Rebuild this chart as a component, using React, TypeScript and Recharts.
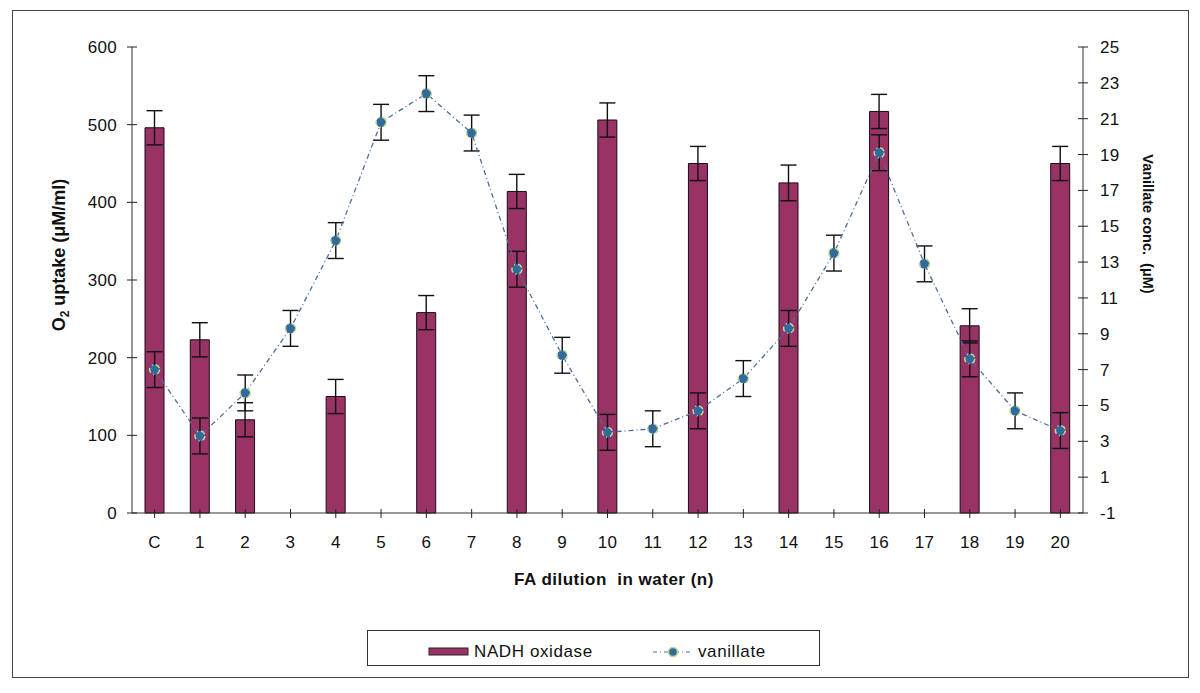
import React from 'react';
import { ComposedChart, Bar, Line, XAxis, YAxis, ErrorBar, Legend } from 'recharts';

// values
const categories = ['C', '1', '2', '3', '4', '5', '6', '7', '8', '9', '10', '11', '12', '13', '14', '15', '16', '17', '18', '19', '20'];
const nadhOxidase = [496, 223, 120, null, 150, null, 258, null, 414, null, 506, null, 450, null, 425, null, 517, null, 241, null, 450];
const nadhError = [22, 22, 22, null, 22, null, 22, null, 22, null, 22, null, 22, null, 23, null, 22, null, 22, null, 22];
const vanillate = [7.0, 3.3, 5.7, 9.3, 14.2, 20.8, 22.4, 20.2, 12.6, 7.8, 3.5, 3.7, 4.7, 6.5, 9.3, 13.5, 19.1, 12.9, 7.6, 4.7, 3.6];
const vanillateError = [1.0, 1.0, 1.0, 1.0, 1.0, 1.0, 1.0, 1.0, 1.0, 1.0, 1.0, 1.0, 1.0, 1.0, 1.0, 1.0, 1.0, 1.0, 1.0, 1.0, 1.0];

const leftTicks = [0, 100, 200, 300, 400, 500, 600];
const rightTicks = [-1, 1, 3, 5, 7, 9, 11, 13, 15, 17, 19, 21, 23, 25];

const data = categories.map((c, i) => ({
  label: c,
  nadh: nadhOxidase[i],
  nadhErr: nadhError[i],
  van: vanillate[i],
  vanErr: vanillateError[i],
}));

const FONT = '"Liberation Sans", Arial, sans-serif';
const BAR_FILL = '#993366';
const LINE_COLOR = '#4d6c9c';
const DOT_FILL = '#336a9c';
const DOT_STROKE = '#b9d98f';

const XTick = ({ x, y, payload }: any) => (
  <g>
    <line x1={x} x2={x} y1={y - 4} y2={y + 5} stroke="#222" />
    <text x={x} y={y + 35} textAnchor="middle" fontSize={17} letterSpacing={0.3} fill="#111" fontFamily={FONT}>
      {payload.value}
    </text>
  </g>
);

const LeftTick = ({ x, y, payload }: any) => (
  <g>
    <line x1={x - 5} x2={x + 5} y1={y} y2={y} stroke="#222" />
    <text x={x - 15} y={y + 6} textAnchor="end" fontSize={17} letterSpacing={0.3} fill="#111" fontFamily={FONT}>
      {payload.value}
    </text>
  </g>
);

const RightTick = ({ x, y, payload }: any) => (
  <g>
    <line x1={x - 5} x2={x + 5} y1={y} y2={y} stroke="#222" />
    <text x={x + 17} y={y + 6} textAnchor="start" fontSize={17} letterSpacing={0.3} fill="#111" fontFamily={FONT}>
      {payload.value}
    </text>
  </g>
);

const LegendBox = () => (
  <div
    style={{
      width: 453,
      height: 36,
      border: '1px solid #333',
      boxSizing: 'border-box',
      background: '#fff',
      position: 'relative',
    }}
  >
    <svg width={451} height={34} style={{ position: 'absolute', left: 0, top: 0 }}>
      <rect x={61} y={17} width={39} height={7} fill={BAR_FILL} stroke="#222" />
      <text x={106} y={26} fontSize={17} letterSpacing={0.6} fontFamily={FONT} fill="#111">NADH oxidase</text>
      <line x1={285} x2={325} y1={21} y2={21} stroke={LINE_COLOR} strokeDasharray="4 3 1 3" />
      <circle cx={305} cy={21} r={4.5} fill={DOT_FILL} stroke={DOT_STROKE} strokeWidth={1.5} />
      <text x={330} y={26} fontSize={17} letterSpacing={0.6} fontFamily={FONT} fill="#111">vanillate</text>
    </svg>
  </div>
);

export default function App() {
  return (
    <div style={{ position: 'absolute', left: 0, top: 0, width: 1200, height: 693, background: '#fff' }}>
      <div
        style={{
          position: 'absolute',
          left: 12,
          top: 10,
          width: 1177,
          height: 668,
          border: '1px solid #444',
          boxSizing: 'border-box',
        }}
      />
      <div style={{ position: 'absolute', left: 0, top: 0 }}>
        <ComposedChart
          width={1200}
          height={693}
          data={data}
          margin={{ top: 47, right: 37, bottom: 120, left: 52 }}
          barCategoryGap={0}
        >
          <XAxis
            dataKey="label"
            height={60}
            stroke="#333"
            tickLine={false}
            tickSize={0}
            tickMargin={0}
            interval={0}
            tick={<XTick />}
            label={() => (
              <text
                x={614}
                y={585}
                textAnchor="middle"
                fontSize={17}
                letterSpacing={0.5}
                fontWeight="bold"
                fontFamily={FONT}
                fill="#111"
                style={{ whiteSpace: 'pre' }}
              >
                FA dilution  in water (n)
              </text>
            )}
          />
          <YAxis
            yAxisId="left"
            width={80}
            domain={[0, 600]}
            ticks={leftTicks}
            interval={0}
            stroke="#333"
            tickLine={false}
            tickSize={0}
            tickMargin={0}
            tick={<LeftTick />}
            label={() => (
              <text
                x={65}
                y={255}
                transform="rotate(-90 65 255)"
                textAnchor="middle"
                fontSize={18}
                fontWeight="bold"
                fontFamily={FONT}
                fill="#111"
              >
                O<tspan dy={4} fontSize={12}>2</tspan>
                <tspan dy={-4}> uptake (μM/ml)</tspan>
              </text>
            )}
          />
          <YAxis
            yAxisId="right"
            orientation="right"
            width={80}
            domain={[-1, 25]}
            ticks={rightTicks}
            interval={0}
            stroke="#333"
            tickLine={false}
            tickSize={0}
            tickMargin={0}
            tick={<RightTick />}
            label={() => (
              <text
                x={1143}
                y={224}
                transform="rotate(90 1143 224)"
                textAnchor="middle"
                fontSize={14.5}
                fontWeight="bold"
                fontFamily={FONT}
                fill="#111"
                style={{ whiteSpace: 'pre' }}
              >
                Vanillate conc.  (μM)
              </text>
            )}
          />
          <Legend
            layout="horizontal"
            verticalAlign="middle"
            align="center"
            content={<LegendBox />}
            wrapperStyle={{ position: 'absolute', left: 367, top: 630, width: 453, height: 36 }}
          />
          <Bar
            yAxisId="left"
            dataKey="nadh"
            name="NADH oxidase"
            barSize={19}
            fill={BAR_FILL}
            stroke="#1c0a12"
            strokeWidth={1}
            isAnimationActive={false}
          >
            <ErrorBar dataKey="nadhErr" width={8} stroke="#111" strokeWidth={1.4} direction="y" />
          </Bar>
          <Line
            yAxisId="right"
            dataKey="van"
            name="vanillate"
            type="linear"
            stroke={LINE_COLOR}
            strokeWidth={1.3}
            strokeDasharray="5 3 1 3"
            dot={{ r: 5, fill: DOT_FILL, stroke: DOT_STROKE, strokeWidth: 1.5 }}
            activeDot={false}
            isAnimationActive={false}
          >
            <ErrorBar dataKey="vanErr" width={8} stroke="#111" strokeWidth={1.4} direction="y" />
          </Line>
        </ComposedChart>
      </div>
    </div>
  );
}
